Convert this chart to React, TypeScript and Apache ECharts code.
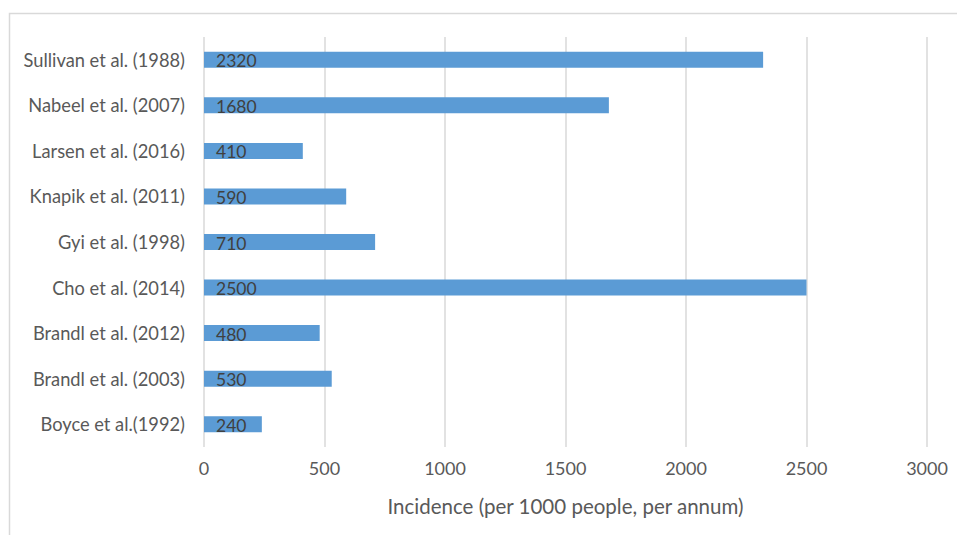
import React, { useEffect, useRef } from "react";
import * as echarts from "echarts";

const categories = [
  "Boyce et al.(1992)",
  "Brandl et al. (2003)",
  "Brandl et al. (2012)",
  "Cho et al. (2014)",
  "Gyi et al. (1998)",
  "Knapik et al. (2011)",
  "Larsen et al. (2016)",
  "Nabeel et al. (2007)",
  "Sullivan et al. (1988)",
];
const values = [240, 530, 480, 2500, 710, 590, 410, 1680, 2320];
const axisTitle = "Incidence (per 1000 people, per annum)";

const FONT = "Lato, 'Open Sans', sans-serif";

export default function App() {
  const ref = useRef<HTMLDivElement>(null);
  useEffect(() => {
    const chart = echarts.init(ref.current!, null, { renderer: "svg" });
    chart.setOption({
      animation: false,
      backgroundColor: "#ffffff",
      textStyle: { fontFamily: FONT },
      grid: { left: 204, right: 30, top: 37, bottom: 88, containLabel: false },
      graphic: [
        {
          type: "rect",
          shape: { x: 9.5, y: 13.5, width: 1000, height: 600 },
          style: { fill: "none", stroke: "#d9d9d9", lineWidth: 1.5 },
          silent: true,
        },
      ],
      xAxis: {
        type: "value",
        min: 0,
        max: 3000,
        interval: 500,
        axisLine: { show: false },
        axisTick: { show: false },
        splitLine: { show: true, lineStyle: { color: "#d9d9d9", width: 1.5 } },
        axisLabel: {
          color: "#595959",
          fontSize: 18,
          fontFamily: FONT,
          margin: 12,
          formatter: (v: number) => String(v),
        },
        name: axisTitle,
        nameLocation: "middle",
        nameGap: 48,
        nameTextStyle: { color: "#595959", fontSize: 20.5, fontFamily: FONT },
      },
      yAxis: {
        type: "category",
        data: categories,
        axisLine: { show: false },
        axisTick: { show: false },
        splitLine: { show: false },
        axisLabel: { color: "#595959", fontSize: 18.3, fontFamily: FONT, margin: 19 },
      },
      series: [
        {
          type: "bar",
          data: values,
          barWidth: 16,
          itemStyle: { color: "#5b9bd5" },
          label: {
            show: true,
            position: "insideLeft",
            distance: 12,
            color: "#404040",
            fontSize: 17.5,
            fontFamily: FONT,
            offset: [0, 1],
          },
        },
      ],
    });
    return () => chart.dispose();
  }, []);
  return (
    <div
      ref={ref}
      style={{ position: "fixed", left: 0, top: 0, width: 957, height: 535 }}
    />
  );
}
